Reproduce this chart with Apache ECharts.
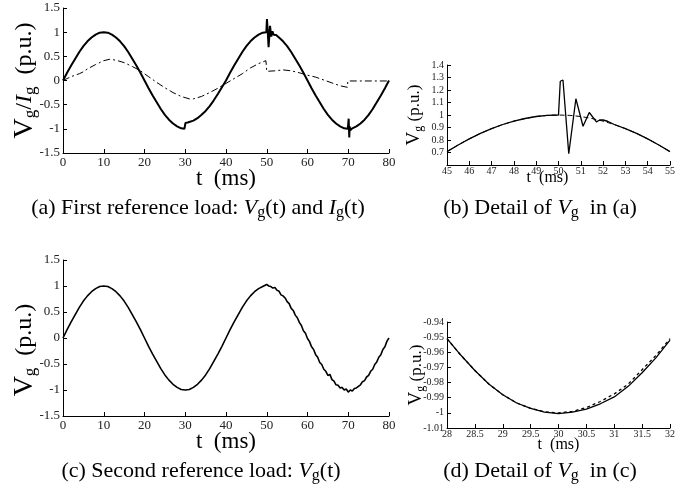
<!DOCTYPE html>
<html><head><meta charset="utf-8">
<script src="https://cdn.jsdelivr.net/npm/echarts@6/dist/echarts.min.js"></script>
<style>html,body{margin:0;padding:0;background:#fff}#c{width:694px;height:498px}</style>
</head><body><div id="c"></div>
<script>
// ---------- (a) First reference load: V_g(t) and I_g(t) ----------
const tA = [0,1,2,3,4,5,6,7,8,9,10,11,12,13,14,15,16,17,18,19,20,21,22,23,24,25,26,27,28,29,29.8,30,30.05,30.3,30.6,31,32,33,34,35,36,37,38,39,40,41,42,43,44,45,46,47,48,49,49.9,50,50.05,50.15,50.25,50.45,50.55,50.7,50.8,50.9,51.1,51.25,51.4,51.55,51.7,51.85,52,52.3,53,54,55,56,57,58,59,60,61,62,63,64,65,66,67,68,69,69.9,70,70.1,70.25,70.35,70.5,70.7,71,72,73,74,75,76,77,78,79,80];
const vA = [0,0.16,0.31,0.45,0.59,0.71,0.81,0.89,0.95,0.99,1.0,0.99,0.95,0.89,0.81,0.71,0.59,0.45,0.31,0.16,0.0,-0.16,-0.31,-0.45,-0.59,-0.71,-0.81,-0.89,-0.95,-0.99,-1.0,-1.02,-0.88,-0.9,-0.87,-0.86,-0.83,-0.78,-0.71,-0.63,-0.53,-0.41,-0.28,-0.14,0.0,0.16,0.31,0.45,0.59,0.71,0.81,0.89,0.95,0.99,1.0,1.0,1.27,1.28,1.0,0.69,0.69,1.0,1.13,1.12,0.91,0.95,1.02,0.98,0.945,0.96,0.96,0.94,0.89,0.81,0.71,0.59,0.45,0.31,0.16,0.0,-0.16,-0.31,-0.45,-0.59,-0.71,-0.81,-0.89,-0.95,-0.99,-1.0,-1.0,-0.79,-1.18,-0.95,-1.03,-0.99,-0.99,-0.95,-0.89,-0.81,-0.71,-0.59,-0.45,-0.31,-0.16,0.0];
const tIA = [0,1,2,3,4,5,6,8,10,11.5,13,15,17,19,21,23,25,27,29,31,32,34,36,38,40,42,44,46,48,49.8,49.9,50,52,54,56,58,60,62,64,66,68,69.8,69.9,72,80];
const iA  = [0,0.04,0.08,0.11,0.14,0.18,0.24,0.33,0.41,0.44,0.42,0.37,0.29,0.2,0.08,-0.04,-0.15,-0.25,-0.33,-0.38,-0.38,-0.33,-0.25,-0.16,-0.06,0.04,0.14,0.26,0.35,0.41,0.41,0.19,0.2,0.22,0.2,0.16,0.11,0.07,0.01,-0.05,-0.11,-0.14,-0.01,-0.01,-0.01];
const xTicksA = {min:0, max:80, interval:10};
const yTicksA = {min:-1.5, max:1.5, interval:0.5};

// ---------- (b) Detail of V_g in (a) ----------
const tB = [45,45.5,46,46.5,47,47.5,48,48.5,49,49.5,50,50.02,50.08,50.2,50.46,50.52,50.78,50.82,51.1,51.38,51.7,51.85,52,52.2,52.5,53,53.5,54,54.5,55];
const vB = [0.707,0.76,0.809,0.853,0.891,0.924,0.951,0.972,0.988,0.997,1.0,1.0,1.27,1.28,0.69,0.69,1.13,1.14,0.91,1.02,0.945,0.96,0.96,0.95,0.924,0.891,0.853,0.809,0.76,0.707];
const tBref = [45,45.5,46,46.5,47,47.5,48,48.5,49,49.5,50,50.5,51,51.5,52,52.5,53,53.5,54,54.5,55];
const vBref = [0.707,0.76,0.809,0.853,0.891,0.924,0.951,0.972,0.988,0.997,1.0,0.997,0.988,0.972,0.951,0.924,0.891,0.853,0.809,0.76,0.707];
const xTicksB = {min:45, max:55, interval:1};
const yTicksB = {min:0.6, max:1.4, interval:0.1};

// ---------- (c) Second reference load: V_g(t) ----------
const tC = [0,1,2,3,4,5,6,7,8,9,10,11,12,13,14,15,16,17,18,19,20,21,22,23,24,25,26,27,28,29,30,31,32,33,34,35,36,37,38,39,40,41,42,43,44,45,46,47,48,49,50,50.5,51,51.5,52,52.5,53,53.5,54,54.5,55,55.5,56,56.5,57,57.5,58,58.5,59,59.5,60,60.5,61,61.5,62,62.5,63,63.5,64,64.5,65,65.5,66,66.5,67,67.5,68,68.5,69,69.5,70,70.5,71,71.5,72,72.5,73,73.5,74,74.5,75,75.5,76,76.5,77,77.5,78,78.5,79,79.5,80];
const vC = [0,0.16,0.31,0.45,0.59,0.71,0.81,0.89,0.95,0.99,1.0,0.99,0.95,0.89,0.81,0.71,0.59,0.45,0.31,0.16,0.0,-0.16,-0.31,-0.45,-0.59,-0.71,-0.81,-0.89,-0.95,-0.99,-1.0,-0.99,-0.95,-0.89,-0.81,-0.71,-0.59,-0.45,-0.31,-0.16,0.0,0.16,0.31,0.45,0.59,0.71,0.81,0.89,0.95,0.99,1.03,1.0,0.99,0.96,0.97,0.92,0.9,0.83,0.81,0.77,0.7,0.66,0.57,0.53,0.44,0.39,0.3,0.24,0.14,0.09,-0.01,-0.07,-0.17,-0.22,-0.32,-0.37,-0.47,-0.51,-0.6,-0.64,-0.72,-0.7,-0.8,-0.83,-0.9,-0.91,-0.96,-0.95,-1.0,-0.98,-1.04,-1.0,-1.02,-0.97,-0.96,-0.93,-0.9,-0.84,-0.82,-0.75,-0.72,-0.64,-0.6,-0.51,-0.46,-0.37,-0.32,-0.22,-0.17,-0.06,0.0];
const xTicksC = {min:0, max:80, interval:10};
const yTicksC = {min:-1.5, max:1.5, interval:0.5};

// ---------- (d) Detail of V_g in (c) ----------
const tD = [28,28.25,28.5,28.75,29,29.25,29.5,29.75,30,30.25,30.5,30.75,31,31.25,31.5,31.75,32];
const vD = [-0.951,-0.962,-0.972,-0.981,-0.988,-0.9935,-0.997,-0.9995,-1.0005,-0.9995,-0.9975,-0.994,-0.9895,-0.9825,-0.9735,-0.9635,-0.952];
const vDref = [-0.951,-0.962,-0.972,-0.981,-0.988,-0.9935,-0.997,-0.9993,-1.0,-0.999,-0.9965,-0.9925,-0.9875,-0.981,-0.9715,-0.962,-0.951];
const xTicksD = {min:28, max:32, interval:0.5};
const yTicksD = {min:-1.01, max:-0.94, interval:0.01};

const zip = (t, v) => t.map((x, i) => [x, v[i]]);
const SERIF = 'Liberation Serif, Times New Roman, serif';
const fmt = v => String(Math.round(v * 1000) / 1000);

function xAx(idx, ticks, fs, gap, nameFs, margin, pad) {
  return Object.assign({
    type:'value', gridIndex: idx, name: 't  (ms)', nameLocation:'middle', nameGap: gap, nameMoveOverlap:false,
    nameTextStyle:{fontFamily:SERIF, fontSize:nameFs, color:'#000', padding: pad},
    axisLine:{onZero:false, lineStyle:{color:'#000', width:1}},
    axisTick:{inside:true, length:4, lineStyle:{color:'#000'}},
    axisLabel:{fontFamily:SERIF, fontSize:fs, color:'#222', margin:margin, formatter: fmt},
    splitLine:{show:false}
  }, ticks);
}
function yAx(idx, ticks, fs, name, gap, rich, showMin) {
  return Object.assign({
    type:'value', gridIndex: idx, name: name, nameLocation:'middle', nameGap: gap, nameRotate: 90, nameMoveOverlap:false,
    nameTextStyle:{fontFamily:SERIF, color:'#000', rich: rich},
    axisLine:{onZero:false, lineStyle:{color:'#000', width:1}},
    axisTick:{inside:true, length:4, lineStyle:{color:'#000'}},
    axisLabel:{fontFamily:SERIF, fontSize:fs, color:'#222', margin:3, formatter: fmt, showMinLabel: showMin},
    splitLine:{show:false}
  }, ticks);
}
const richBig = {
  v:{fontFamily:SERIF, fontSize:28, color:'#000'},
  n:{fontFamily:SERIF, fontSize:24, color:'#000'},
  i:{fontFamily:SERIF, fontSize:24, fontStyle:'italic', color:'#000'},
  s:{fontFamily:SERIF, fontSize:17, color:'#000', padding:[12,0,0,0]}
};
const richSmall = {
  v:{fontFamily:SERIF, fontSize:19, color:'#000'},
  n:{fontFamily:SERIF, fontSize:17, color:'#000'},
  s:{fontFamily:SERIF, fontSize:12, color:'#000', padding:[9,0,0,0]}
};
const richCap = {
  n:{fontFamily:SERIF, fontSize:22, color:'#000'},
  vi:{fontFamily:SERIF, fontSize:22, fontStyle:'italic', color:'#000'},
  s:{fontFamily:SERIF, fontSize:16, color:'#000', padding:[10,0,0,0]}
};

const chart = echarts.init(document.getElementById('c'), null, {renderer:'canvas'});
chart.setOption({
  animation:false,
  backgroundColor:'#fff',
  grid:[
    {left:63, top:8, width:326, height:145},
    {left:447, top:65, width:223, height:100},
    {left:63, top:260, width:326, height:156},
    {left:447, top:322, width:223, height:106}
  ],
  xAxis:[
    xAx(0, xTicksA, 13, 14, 23, 3, 0),
    xAx(1, xTicksB, 10, 5, 16, 1, [0,22,0,0]),
    xAx(2, xTicksC, 13, 14, 23, 3, 0),
    xAx(3, xTicksD, 10, 9, 16, 1, 0)
  ],
  yAxis:[
    yAx(0, yTicksA, 13, '{v|V}{s|g}{n|/}{i|I}{s|g}{n|  (p.u.)}', 24, richBig, true),
    yAx(1, yTicksB, 10, '{v|V}{s|g}{n| (p.u.)}', 22, richSmall, false),
    yAx(2, yTicksC, 13, '{v|V}{s|g}{n|  (p.u.)    }', 24, richBig, true),
    yAx(3, yTicksD, 10, '{v|V}{s|g}{n| (p.u.)}', 20, richSmall, true)
  ],
  series:[
    {type:'line', xAxisIndex:0, yAxisIndex:0, data: zip(tIA, iA), symbol:'none', lineStyle:{color:'#000', width:1, type:[7,3,2,3]}},
    {type:'line', xAxisIndex:0, yAxisIndex:0, data: zip(tA, vA), symbol:'none', lineStyle:{color:'#000', width:2}},
    {type:'line', xAxisIndex:1, yAxisIndex:1, data: zip(tBref, vBref), symbol:'none', lineStyle:{color:'#000', width:1, type:[5,3]}},
    {type:'line', xAxisIndex:1, yAxisIndex:1, data: zip(tB, vB), symbol:'none', lineStyle:{color:'#000', width:1.3}},
    {type:'line', xAxisIndex:2, yAxisIndex:2, data: zip(tC, vC), symbol:'none', lineStyle:{color:'#000', width:1.6}},
    {type:'line', xAxisIndex:3, yAxisIndex:3, data: zip(tD, vD), symbol:'none', lineStyle:{color:'#000', width:1.3}},
    {type:'line', xAxisIndex:3, yAxisIndex:3, data: zip(tD, vDref), symbol:'none', lineStyle:{color:'#000', width:1.3, type:[3,3]}}
  ],
  graphic:[
    {type:'text', style:{text:'{n|(a) First reference load: }{vi|V}{s|g}{n|(t) and }{vi|I}{s|g}{n|(t)}', rich:richCap, x:198, y:208, align:'center', verticalAlign:'middle'}},
    {type:'text', style:{text:'{n|(b) Detail of }{vi|V}{s|g}{n|  in (a)}', rich:richCap, x:540, y:208, align:'center', verticalAlign:'middle'}},
    {type:'text', style:{text:'{n|(c) Second reference load: }{vi|V}{s|g}{n|(t)}', rich:richCap, x:201, y:471, align:'center', verticalAlign:'middle'}},
    {type:'text', style:{text:'{n|(d) Detail of }{vi|V}{s|g}{n|  in (c)}', rich:richCap, x:540, y:471, align:'center', verticalAlign:'middle'}}
  ]
});
</script></body></html>
